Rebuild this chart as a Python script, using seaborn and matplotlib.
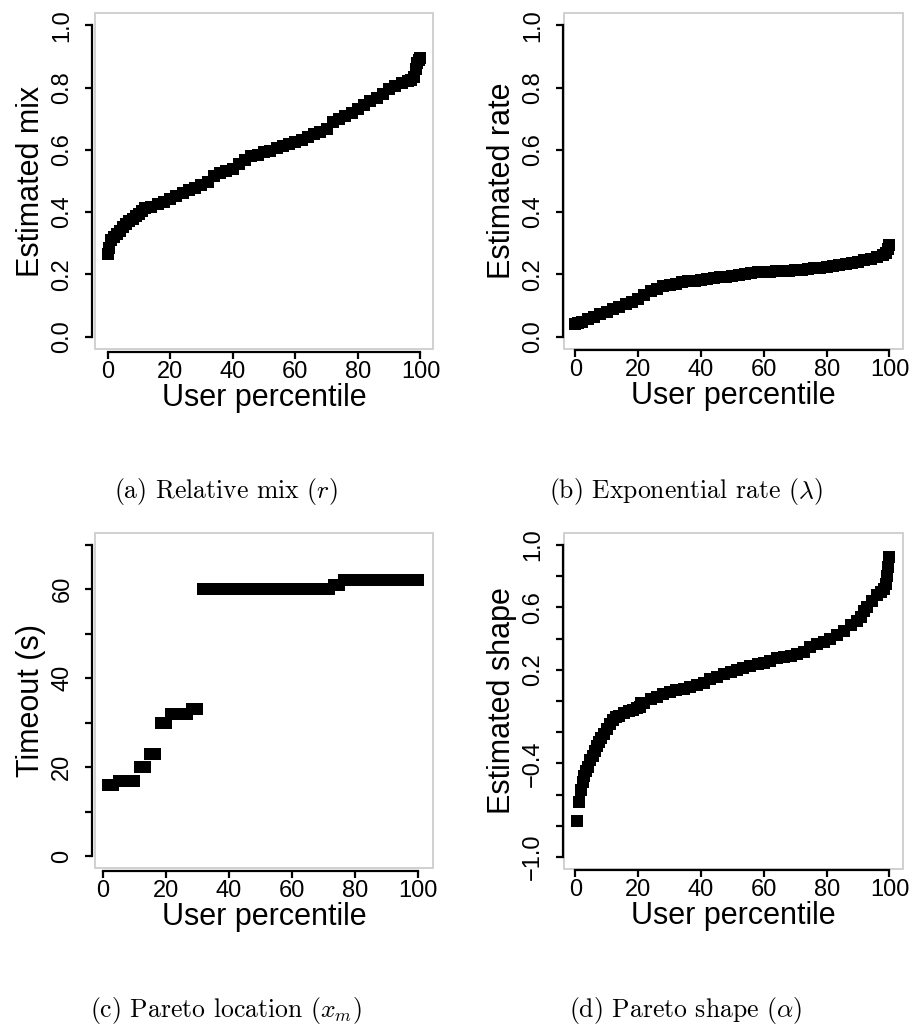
"""
Four-panel figure: per-user parameter estimates sorted by user percentile.
R base-graphics look: gray frame, detached black axes, rotated y tick labels.
"""
import matplotlib
matplotlib.use("Agg")
import matplotlib.pyplot as plt
from matplotlib.patches import Rectangle
import pandas as pd
import seaborn as sns

W, H = 914, 1028

# (a) relative mix r
MIX_PCT = [0, 0.5, 1, 2, 3, 4, 5, 6, 7, 8, 9, 10, 11, 12, 14, 16, 18, 20, 22, 24,
           26, 28, 30, 32, 34, 36, 38, 40, 42, 44, 46, 48, 50, 52, 54, 56, 58, 60,
           62, 64, 66, 68, 70, 72, 74, 76, 78, 80, 82, 84, 86, 88, 90, 92, 94, 96,
           97, 98, 98.5, 99, 99.5, 100]
MIX_VAL = [0.265, 0.285, 0.31, 0.32, 0.33, 0.34, 0.352, 0.362, 0.37, 0.378, 0.386,
           0.394, 0.403, 0.412, 0.418, 0.425, 0.433, 0.442, 0.452, 0.461, 0.47,
           0.478, 0.486, 0.496, 0.515, 0.527, 0.533, 0.54, 0.555, 0.568, 0.58,
           0.585, 0.592, 0.598, 0.605, 0.612, 0.618, 0.624, 0.632, 0.64, 0.65,
           0.658, 0.667, 0.69, 0.7, 0.708, 0.72, 0.731, 0.743, 0.756, 0.768, 0.781,
           0.795, 0.806, 0.816, 0.822, 0.826, 0.835, 0.86, 0.88, 0.89, 0.895]

# (b) exponential rate lambda
RATE_PCT = [0, 1, 2, 4, 6, 8, 10, 12, 14, 16, 18, 20, 22, 24, 26, 28, 30, 32, 34,
            36, 38, 40, 42, 44, 46, 48, 50, 52, 54, 56, 58, 60, 62, 64, 66, 68, 70,
            72, 74, 76, 78, 80, 82, 84, 86, 88, 90, 92, 94, 96, 98, 99, 99.5, 100]
RATE_VAL = [0.04, 0.045, 0.048, 0.055, 0.064, 0.072, 0.08, 0.088, 0.096, 0.104,
            0.112, 0.122, 0.134, 0.145, 0.154, 0.161, 0.166, 0.17, 0.174, 0.177,
            0.179, 0.182, 0.185, 0.188, 0.19, 0.193, 0.195, 0.198, 0.201, 0.204,
            0.206, 0.208, 0.209, 0.21, 0.211, 0.212, 0.213, 0.215, 0.217, 0.219,
            0.221, 0.224, 0.227, 0.23, 0.233, 0.236, 0.24, 0.245, 0.25, 0.256,
            0.262, 0.27, 0.283, 0.295]

# (c) Pareto location x_m (timeout, seconds)
LOC_PCT = [1.67, 3.33, 5.0, 6.67, 8.33, 10.0, 11.67, 13.33, 15.0, 16.67, 18.33,
           20.0, 21.67, 23.33, 25.0, 26.67, 28.33, 30.0, 31.67, 33.33, 35.0, 36.67,
           38.33, 40.0, 41.67, 43.33, 45.0, 46.67, 48.33, 50.0, 51.67, 53.33, 55.0,
           56.67, 58.33, 60.0, 61.67, 63.33, 65.0, 66.67, 68.33, 70.0, 71.67, 73.33,
           75.0, 76.67, 78.33, 80.0, 81.67, 83.33, 85.0, 86.67, 88.33, 90.0, 91.67,
           93.33, 95.0, 96.67, 98.33, 100.0]
LOC_VAL = [16, 16, 17, 17, 17, 17, 20, 20, 23, 23, 30, 30, 32, 32, 32, 32, 33, 33,
           60, 60, 60, 60, 60, 60, 60, 60, 60, 60, 60, 60, 60, 60, 60, 60, 60, 60,
           60, 60, 60, 60, 60, 60, 60, 61, 61, 62, 62, 62, 62, 62, 62, 62, 62, 62,
           62, 62, 62, 62, 62, 62]

# (d) Pareto shape alpha
SHAPE_PCT = [0.6, 1.2, 1.8, 2.3, 2.8, 3.4, 4.0, 4.8, 5.5, 6.2, 6.9, 7.6, 8.3, 9.0,
             10, 11, 12, 13, 14, 15.4, 17, 18.5, 19.6, 20.5, 21, 22, 24, 26, 28, 30,
             32, 34.5, 36.5, 38.7, 41, 43, 45, 47.2, 49.5, 51.5, 53.5, 55.7, 58, 60,
             62, 64.2, 66.5, 68.5, 70.5, 72.7, 74.8, 77, 79, 81, 83.3, 85.5, 87.6,
             89.5, 90.8, 92, 92.9, 94.5, 96, 97.2, 98.2, 99, 99.3, 99.6, 100]
SHAPE_VAL = [-0.77, -0.65, -0.57, -0.52, -0.48, -0.45, -0.42, -0.38, -0.35, -0.32,
             -0.29, -0.26, -0.235, -0.21, -0.18, -0.145, -0.12, -0.105, -0.095,
             -0.08, -0.065, -0.055, -0.048, -0.04, -0.015, -0.01, 0.01, 0.027,
             0.045, 0.059, 0.068, 0.08, 0.09, 0.102, 0.118, 0.138, 0.152, 0.17,
             0.185, 0.198, 0.21, 0.224, 0.234, 0.245, 0.258, 0.273, 0.28, 0.288,
             0.3, 0.316, 0.348, 0.364, 0.38, 0.4, 0.422, 0.45, 0.487, 0.51, 0.54,
             0.575, 0.604, 0.64, 0.68, 0.7, 0.72, 0.75, 0.8, 0.86, 0.92]

UNIT_TICKS = [0.0, 0.2, 0.4, 0.6, 0.8, 1.0]
UNIT_LABELS = ["0.0", "0.2", "0.4", "0.6", "0.8", "1.0"]
LOC_TICKS = [0, 10, 20, 30, 40, 50, 60, 70]
LOC_LABELS = ["0", "", "20", "", "40", "", "60", ""]
SHAPE_TICKS = [-1.0, -0.8, -0.6, -0.4, -0.2, 0.0, 0.2, 0.4, 0.6, 0.8, 1.0]
SHAPE_LABELS = ["\u22121.0", "", "", "\u22120.4", "", "", "0.2", "", "0.6", "", "1.0"]
X_TICKS = [0, 20, 40, 60, 80, 100]

PANELS = [
    dict(x=MIX_PCT, y=MIX_VAL, ylabel="Estimated mix", yticks=UNIT_TICKS,
         ylabels=UNIT_LABELS, ybound=(0, 1), ylim=(-0.04, 1.04), xlim=(-4, 104),
         box=(95, 13, 433, 349), off=3,
         caption=r"(a) Relative mix ($r$)", cap=(226, 498)),
    dict(x=RATE_PCT, y=RATE_VAL, ylabel="Estimated rate", yticks=UNIT_TICKS,
         ylabels=UNIT_LABELS, ybound=(0, 1), ylim=(-0.04, 1.04), xlim=(-3.6, 104.3),
         box=(564, 13, 903, 349), off=1,
         caption=r"(b) Exponential rate ($\lambda$)", cap=(686, 498)),
    dict(x=LOC_PCT, y=LOC_VAL, ylabel="Timeout (s)", yticks=LOC_TICKS,
         ylabels=LOC_LABELS, ybound=(0, 70), ylim=(-2.6, 72.6), xlim=(-2.5, 104.8),
         box=(95, 533, 433, 868), off=3,
         caption=r"(c) Pareto location ($x_m$)", cap=(226, 1017)),
    dict(x=SHAPE_PCT, y=SHAPE_VAL, ylabel="Estimated shape", yticks=SHAPE_TICKS,
         ylabels=SHAPE_LABELS, ybound=(-1, 1), ylim=(-1.077, 1.077), xlim=(-3.6, 104.3),
         box=(564, 533, 903, 869), off=1,
         caption=r"(d) Pareto shape ($\alpha$)", cap=(686, 1017)),
]

sns.set_style("white")
plt.rcParams["font.family"] = ["Liberation Sans", "DejaVu Sans"]
plt.rcParams["mathtext.fontset"] = "cm"
for key in ("text.color", "axes.labelcolor", "xtick.color", "ytick.color"):
    plt.rcParams[key] = "black"

fig = plt.figure(figsize=(W / 100, H / 100), dpi=100)

for p in PANELS:
    x0, y0, x1, y1 = p["box"]
    ax = fig.add_axes([x0 / W, 1 - y1 / H, (x1 - x0) / W, (y1 - y0) / H])
    df = pd.DataFrame({"pct": p["x"], "val": p["y"]})
    sns.scatterplot(data=df, x="pct", y="val", marker="s", s=68, color="black",
                    linewidth=0, ax=ax, legend=False, zorder=3)
    ax.set_xlim(*p["xlim"])
    ax.set_ylim(*p["ylim"])

    # light gray frame, black detached axes
    ax.add_patch(Rectangle((0, 0), 1, 1, transform=ax.transAxes, fill=False,
                           edgecolor="#cdcdcd", lw=1.3, clip_on=False, zorder=1))
    for side in ("top", "right"):
        ax.spines[side].set_visible(False)
    for side in ("left", "bottom"):
        sp = ax.spines[side]
        sp.set_color("black")
        sp.set_linewidth(1.6)
        sp.set_position(("outward", p["off"] * 0.72))
    ax.spines["left"].set_bounds(*p["ybound"])
    ax.spines["bottom"].set_bounds(0, 100)

    ax.set_xticks(X_TICKS)
    ax.set_xticklabels([str(t) for t in X_TICKS])
    ax.set_yticks(p["yticks"])
    ax.set_yticklabels(p["ylabels"])
    ax.tick_params(axis="both", direction="out", length=5, width=1.6,
                   color="black", labelcolor="black", labelsize=17,
                   left=True, bottom=True)
    ax.tick_params(axis="x", pad=1.5)
    ax.tick_params(axis="y", pad=8.5, labelrotation=90)
    for lab in ax.get_yticklabels():
        lab.set_va("center")

    ax.set_xlabel("User percentile", fontsize=22, labelpad=0, color="black")
    ax.set_ylabel(p["ylabel"], fontsize=22, labelpad=4, color="black")
    ax.grid(False)

    cx, cy = p["cap"]
    fig.text(cx / W, 1 - cy / H, p["caption"], ha="center", va="baseline",
             fontsize=18.5, family="cmr10", color="black")

fig.savefig("out.png", dpi=100)
